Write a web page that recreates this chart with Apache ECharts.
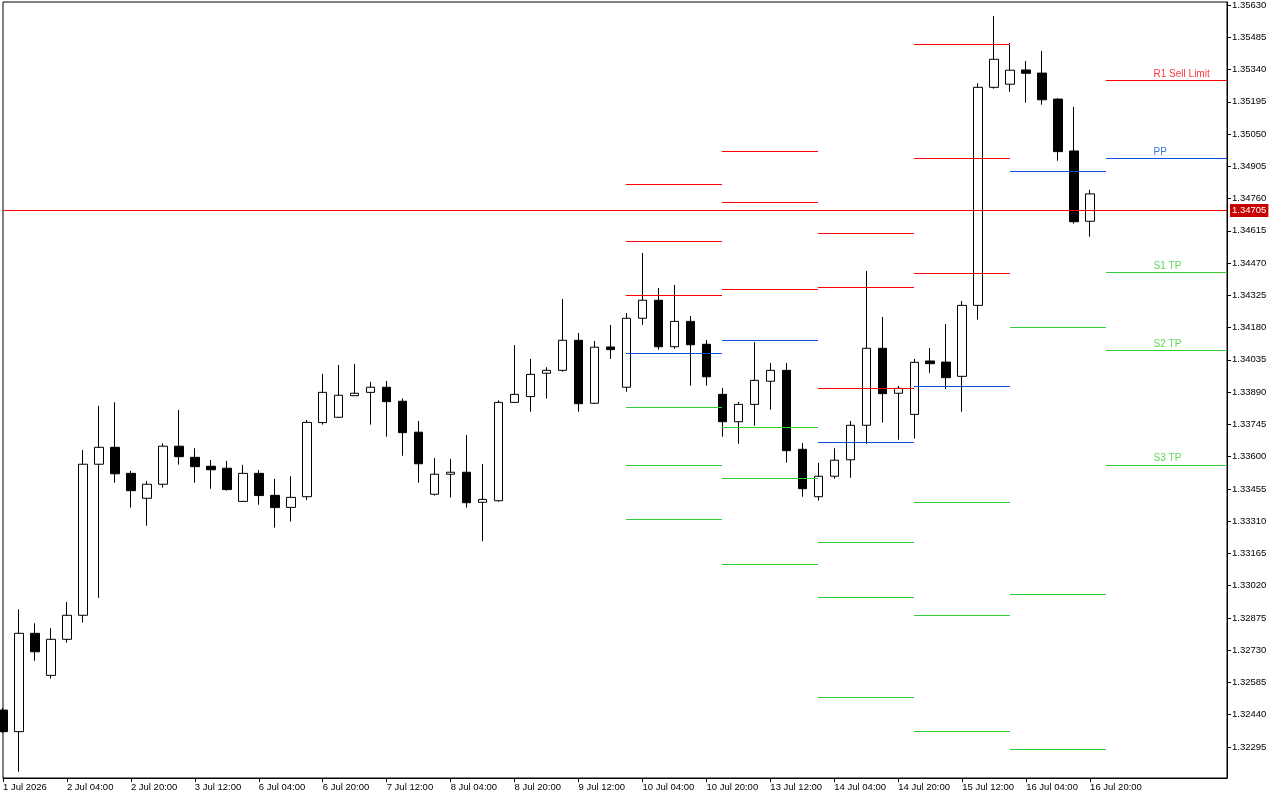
<!DOCTYPE html>
<html><head><meta charset="utf-8">
<script src="https://cdn.jsdelivr.net/npm/echarts@6/dist/echarts.min.js"></script>
<style>html,body{margin:0;padding:0;background:#fff}#c{width:1280px;height:800px}</style>
</head><body><div id="c"></div><script>
// H4 bars, 1 Jul 2026 12:00 .. 16 Jul 2026 20:00
const barTimes = [
 '1 Jul 12:00','1 Jul 16:00','1 Jul 20:00',
 '2 Jul 00:00','2 Jul 04:00','2 Jul 08:00','2 Jul 12:00','2 Jul 16:00','2 Jul 20:00',
 '3 Jul 00:00','3 Jul 04:00','3 Jul 08:00','3 Jul 12:00','3 Jul 16:00','3 Jul 20:00',
 '6 Jul 00:00','6 Jul 04:00','6 Jul 08:00','6 Jul 12:00','6 Jul 16:00','6 Jul 20:00',
 '7 Jul 00:00','7 Jul 04:00','7 Jul 08:00','7 Jul 12:00','7 Jul 16:00','7 Jul 20:00',
 '8 Jul 00:00','8 Jul 04:00','8 Jul 08:00','8 Jul 12:00','8 Jul 16:00','8 Jul 20:00',
 '9 Jul 00:00','9 Jul 04:00','9 Jul 08:00','9 Jul 12:00','9 Jul 16:00','9 Jul 20:00',
 '10 Jul 00:00','10 Jul 04:00','10 Jul 08:00','10 Jul 12:00','10 Jul 16:00','10 Jul 20:00',
 '13 Jul 00:00','13 Jul 04:00','13 Jul 08:00','13 Jul 12:00','13 Jul 16:00','13 Jul 20:00',
 '14 Jul 00:00','14 Jul 04:00','14 Jul 08:00','14 Jul 12:00','14 Jul 16:00','14 Jul 20:00',
 '15 Jul 00:00','15 Jul 04:00','15 Jul 08:00','15 Jul 12:00','15 Jul 16:00','15 Jul 20:00',
 '16 Jul 00:00','16 Jul 04:00','16 Jul 08:00','16 Jul 12:00','16 Jul 16:00','16 Jul 20:00'
];
const opens = [1.32461,1.32364,1.32806,1.32617,1.32779,1.32887,1.33566,1.33642,1.33525,1.33413,
 1.33476,1.33647,1.33597,1.33557,1.33548,1.33399,1.33525,1.33426,1.33372,1.33420,
 1.33753,1.33777,1.33874,1.33889,1.33912,1.33849,1.33710,1.33431,1.33521,1.33530,
 1.33395,1.33402,1.33844,1.33870,1.33975,1.33988,1.34123,1.33840,1.34093,1.33912,
 1.34222,1.34303,1.34094,1.34208,1.34105,1.33880,1.33757,1.33835,1.33939,1.33988,
 1.33633,1.33420,1.33512,1.33586,1.33741,1.34087,1.33885,1.33790,1.34030,1.34025,
 1.33961,1.34280,1.35260,1.35274,1.35338,1.35324,1.35207,1.34974,1.34658];
const closes = [1.32364,1.32806,1.32723,1.32779,1.32887,1.33566,1.33642,1.33523,1.33447,1.33476,
 1.33647,1.33600,1.33555,1.33541,1.33452,1.33525,1.33425,1.33371,1.33417,1.33754,
 1.33889,1.33876,1.33885,1.33912,1.33847,1.33708,1.33568,1.33521,1.33530,1.33393,
 1.33408,1.33844,1.33880,1.33970,1.33988,1.34123,1.33838,1.34092,1.34081,1.34222,
 1.34303,1.34094,1.34208,1.34103,1.33959,1.33757,1.33835,1.33943,1.33988,1.33627,
 1.33456,1.33512,1.33584,1.33741,1.34087,1.33883,1.33907,1.34024,1.34018,1.33955,
 1.34280,1.35260,1.35386,1.35337,1.35323,1.35204,1.34971,1.34656,1.34781];
const lows = [1.32358,1.32184,1.32683,1.32602,1.32764,1.32854,1.32965,1.33483,1.33371,1.33290,
 1.33461,1.33564,1.33483,1.33456,1.33447,1.33396,1.33384,1.33281,1.33308,1.33405,
 1.33744,1.33774,1.33873,1.33744,1.33690,1.33604,1.33483,1.33425,1.33416,1.33371,
 1.33220,1.33398,1.33841,1.33802,1.33861,1.33982,1.33802,1.33837,1.34039,1.33892,
 1.34193,1.34081,1.34085,1.33919,1.33919,1.33690,1.33658,1.33739,1.33811,1.33573,
 1.33420,1.33402,1.33501,1.33505,1.33658,1.33753,1.33676,1.33681,1.33977,1.33903,
 1.33802,1.34216,1.35254,1.35240,1.35191,1.35182,1.34930,1.34647,1.34589];
const highs = [1.32470,1.32914,1.32851,1.32829,1.32947,1.33630,1.33828,1.33844,1.33536,1.33491,
 1.33660,1.33810,1.33638,1.33585,1.33581,1.33563,1.33540,1.33500,1.33512,1.33765,
 1.33972,1.34012,1.34017,1.33936,1.33940,1.33862,1.33760,1.33594,1.33590,1.33697,
 1.33567,1.33853,1.34102,1.34039,1.34002,1.34309,1.34156,1.34120,1.34192,1.34246,
 1.34515,1.34358,1.34372,1.34232,1.34124,1.33909,1.33846,1.34115,1.34021,1.34021,
 1.33661,1.33572,1.33638,1.33760,1.34434,1.34228,1.33918,1.34039,1.34088,1.34196,
 1.34300,1.35279,1.35581,1.35459,1.35378,1.35423,1.35211,1.35172,1.34799];

// Daily pivot levels (drawn from the day's first bar to the next day's first bar)
const pivotDays  = ['10 Jul','13 Jul','14 Jul','15 Jul','16 Jul','17 Jul'];
const pivotStart = [39, 45, 51, 57, 63, 69];
const R3 = [1.34824, 1.34973, 1.34604, 1.35455, null, null];
const R2 = [1.34568, 1.34743, 1.34361, 1.34941, null, null];
const R1 = [1.34325, 1.34352, 1.33907, 1.34424, null, 1.35292];
const PP = [1.34065, 1.34123, 1.33665, 1.33916, 1.34883, 1.34941];
const S1 = [1.33822, 1.33732, 1.33215, 1.33395, 1.34181, 1.34429];
const S2 = [1.33561, 1.33503, 1.32968, 1.32887, 1.32981, 1.34080];
const S3 = [1.33319, 1.33116, 1.32518, 1.32366, 1.32285, 1.33564];

const levelNames = ['R1 Sell Limit', 'PP', 'S1 TP', 'S2 TP', 'S3 TP'];
const bidPrice = 1.34705;

const xTickIndex  = [0,4,8,12,16,20,24,28,32,36,40,44,48,52,56,60,64,68];
const xTickLabels = ['1 Jul 2026','2 Jul 04:00','2 Jul 20:00','3 Jul 12:00','6 Jul 04:00','6 Jul 20:00',
 '7 Jul 12:00','8 Jul 04:00','8 Jul 20:00','9 Jul 12:00','10 Jul 04:00','10 Jul 20:00',
 '13 Jul 12:00','14 Jul 04:00','14 Jul 20:00','15 Jul 12:00','16 Jul 04:00','16 Jul 20:00'];
const yTickLabels = ['1.35630','1.35485','1.35340','1.35195','1.35050','1.34905','1.34760','1.34615',
 '1.34470','1.34325','1.34180','1.34035','1.33890','1.33745','1.33600','1.33455','1.33310','1.33165',
 '1.33020','1.32875','1.32730','1.32585','1.32440','1.32295'];

const X_MAX = 76.5625, Y_MIN = 1.321557, Y_MAX = 1.356435;
const LABEL_BAR = 72;
const RED = '#ff0000', BLUE = '#0a4fd8', GREEN = '#33cc33', BID_BOX = '#c80000';
const FONT = 'Liberation Sans';

const candleData = opens.map((o, i) => [i, o, closes[i], lows[i], highs[i]]);
function segs(levels) {
  const out = [];
  levels.forEach((v, d) => {
    if (v == null) return;
    const s = pivotStart[d];
    const e = d + 1 < pivotStart.length ? pivotStart[d + 1] : X_MAX;
    out.push([s, e, v]);
  });
  return out;
}
// crisp 1px horizontal segment, positioned through the axes' scales
function hSeg(color) {
  return (params, api) => {
    const a = api.coord([api.value(0), api.value(2)]);
    const b = api.coord([api.value(1), api.value(2)]);
    const y = Math.round(a[1]) + 0.5;
    return { type: 'line', silent: true,
      shape: { x1: Math.round(a[0]), y1: y, x2: Math.round(b[0]), y2: y },
      style: { stroke: color, lineWidth: 1, fill: null } };
  };
}
// bid line with its price box on the price scale
function bidItem(params, api) {
  const a = api.coord([api.value(0), api.value(2)]);
  const b = api.coord([api.value(1), api.value(2)]);
  const y = Math.floor(a[1]) + 0.5;
  return { type: 'group', silent: true, children: [
    { type: 'rect', shape: { x: Math.round(a[0]), y: y - 0.5, width: Math.round(b[0] - a[0]), height: 1 },
      style: { fill: RED, stroke: null }, z2: 10 },
    { type: 'text', x: Math.round(b[0]) + 3, y: y,
      style: { text: api.value(2).toFixed(5), fill: '#fff', backgroundColor: BID_BOX,
        padding: [2, 2, 1, 2], fontSize: 9.5, fontFamily: FONT, align: 'left', verticalAlign: 'middle' }, z2: 10 }
  ] };
}
const lastDay = pivotStart.length - 1;
const labelLevels = [R1[lastDay], PP[lastDay], S1[lastDay], S2[lastDay], S3[lastDay]];
const labelColors = [RED, BLUE, GREEN, GREEN, GREEN];

const chart = echarts.init(document.getElementById('c'));
chart.setOption({
  animation: false,
  backgroundColor: '#fff',
  textStyle: { fontFamily: FONT },
  grid: { left: 2, top: 2, right: 53, bottom: 22, show: true, borderColor: '#000', borderWidth: 1, backgroundColor: '#fff' },
  xAxis: {
    type: 'value', min: 0, max: X_MAX,
    splitLine: { show: false },
    axisLine: { show: true, onZero: false, lineStyle: { color: '#000', width: 1 } },
    axisTick: { show: true, inside: false, length: 4, customValues: xTickIndex, lineStyle: { color: '#000' } },
    axisLabel: {
      customValues: xTickIndex, align: 'left', margin: 4, color: '#000', fontSize: 9.5, fontFamily: FONT,
      formatter: v => { const i = xTickIndex.indexOf(Math.round(v)); return i >= 0 ? xTickLabels[i] : ''; }
    }
  },
  yAxis: {
    type: 'value', position: 'right', min: Y_MIN, max: Y_MAX, scale: true,
    splitLine: { show: false },
    axisLine: { show: true, onZero: false, lineStyle: { color: '#000', width: 1 } },
    axisTick: { show: true, inside: false, length: 4, customValues: yTickLabels.map(Number), lineStyle: { color: '#000' } },
    axisLabel: {
      customValues: yTickLabels.map(Number), margin: 5, color: '#000', fontSize: 9.5, fontFamily: FONT,
      formatter: v => v.toFixed(5)
    }
  },
  series: [
    {
      type: 'candlestick', name: 'EURUSD,H4', data: candleData, barWidth: 9, z: 2,
      encode: { x: 0, y: [1, 2, 3, 4] },
      itemStyle: { color: '#fff', color0: '#000', borderColor: '#000', borderColor0: '#000', borderWidth: 1 }
    },
    { type: 'custom', name: 'Resistance', z: 4, silent: true, renderItem: hSeg(RED),
      encode: { x: [0, 1], y: 2 }, data: segs(R1).concat(segs(R2), segs(R3)) },
    { type: 'custom', name: 'Pivot', z: 4, silent: true, renderItem: hSeg(BLUE),
      encode: { x: [0, 1], y: 2 }, data: segs(PP) },
    { type: 'custom', name: 'Support', z: 4, silent: true, renderItem: hSeg(GREEN),
      encode: { x: [0, 1], y: 2 }, data: segs(S1).concat(segs(S2), segs(S3)) },
    { type: 'custom', name: 'Bid', z: 8, silent: true, renderItem: bidItem,
      encode: { x: [0, 1], y: 2 }, data: [[0, X_MAX, bidPrice]] },
    {
      type: 'scatter', z: 7, silent: true, symbolSize: 1,
      itemStyle: { color: 'rgba(0,0,0,0)' },
      data: levelNames.map((n, i) => ({
        value: [LABEL_BAR, labelLevels[i]], name: n,
        label: { show: true, formatter: n, color: labelColors[i], position: [0, -5.5], align: 'left',
          verticalAlign: 'middle', fontSize: 10, fontFamily: FONT }
      }))
    }
  ]
});
</script></body></html>
